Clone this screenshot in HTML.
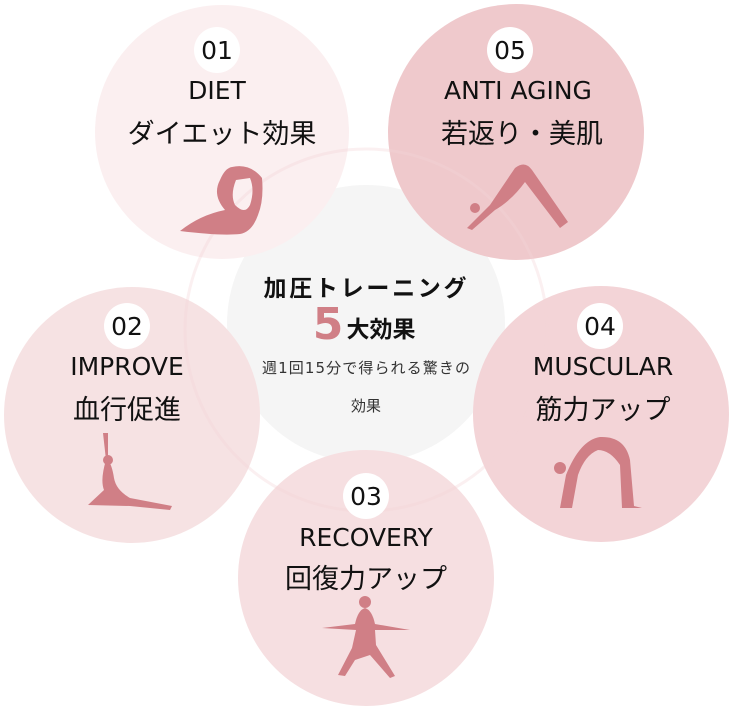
<!DOCTYPE html>
<html><head><meta charset="utf-8"><style>
body{margin:0;background:#fff;width:733px;height:706px;overflow:hidden}
svg text{font-family:"DejaVu Sans","Noto Sans CJK JP",sans-serif}
</style></head><body>
<svg width="733" height="706" viewBox="0 0 733 706" xmlns="http://www.w3.org/2000/svg">
<circle cx="366" cy="324" r="139" fill="#f5f5f5"/>
<circle cx="222" cy="132" r="127" fill="#fbeeef" opacity="0.95"/>
<circle cx="516" cy="132" r="128" fill="#efc9cc"/>
<circle cx="132" cy="415" r="128" fill="#f6e0e1" opacity="0.95"/>
<circle cx="601" cy="414" r="128" fill="#f3d4d7"/>
<circle cx="366" cy="578" r="128" fill="#f6dfe1"/>
<circle cx="366" cy="330" r="181" fill="none" stroke="#f3d4d6" stroke-width="3" opacity="0.35"/>
<g fill="#fff">
<circle cx="217" cy="50" r="23"/><circle cx="510" cy="50" r="23"/>
<circle cx="127" cy="326" r="23"/><circle cx="600" cy="326" r="23"/><circle cx="366" cy="496" r="23"/>
</g>
<g font-size="25" fill="#111" text-anchor="middle">
<text x="217" y="59">01</text><text x="217" y="99">DIET</text>
<text x="510" y="59">05</text><text x="518" y="99">ANTI AGING</text>
<text x="127" y="335">02</text><text x="127" y="375">IMPROVE</text>
<text x="600" y="335">04</text><text x="603" y="375">MUSCULAR</text>
<text x="366" y="505">03</text><text x="366" y="546">RECOVERY</text>
</g>
<g font-size="27" fill="#111" text-anchor="middle">
<text x="222" y="143">ダイエット効果</text>
<text x="522" y="143">若返り・美肌</text>
<text x="127" y="419">血行促進</text>
<text x="603" y="419">筋力アップ</text>
<text x="366" y="588">回復力アップ</text>
</g>
<text x="365" y="296" font-size="23" font-weight="bold" text-anchor="middle" fill="#111" textLength="203">加圧トレーニング</text>
<text x="328" y="339" font-size="44" font-weight="bold" text-anchor="middle" fill="#d07f86">5</text>
<text x="381" y="337" font-size="23" font-weight="bold" text-anchor="middle" fill="#111">大効果</text>
<text x="366" y="373" font-size="15" text-anchor="middle" fill="#333" textLength="208">週1回15分で得られる驚きの</text>
<text x="366" y="411" font-size="15" text-anchor="middle" fill="#333">効果</text>
<g fill="#d07f86">
<path d="M180 231 Q200 215 225 210 Q212 195 220 180 Q225 168 232 167 Q250 163 262 178 Q264 200 258 215 Q252 232 240 234 Q220 236 180 231Z M236 180 Q230 195 235 205 Q245 215 250 205 Q255 190 250 178Z" fill-rule="evenodd"/>
<path d="M467 228 L490 205 Q500 190 515 168 Q525 160 532 170 L568 222 L560 228 L525 182 Q512 200 495 210 L472 230Z"/>
<circle cx="475" cy="208" r="5"/>
<path d="M103 433 L106 460 Q100 480 104 490 L88 505 L130 506 L170 510 L172 506 L130 498 Q116 490 114 478 Q112 465 108 460 L108 433Z"/>
<circle cx="108" cy="460" r="5"/>
<path d="M560 508 L566 475 Q580 440 600 437 Q625 436 630 460 L634 506 L642 508 L622 508 L620 465 Q610 450 598 450 Q585 455 578 475 L572 508Z"/>
<circle cx="560" cy="468" r="6"/>
<path d="M322 628 L355 624 Q358 610 365 608 Q372 610 375 624 L410 630 L375 630 L376 645 L395 676 L390 678 L370 655 L355 660 L345 676 L338 675 L352 648 L356 630Z"/>
<circle cx="365" cy="602" r="6"/>
</g>
</svg>
</body></html>
